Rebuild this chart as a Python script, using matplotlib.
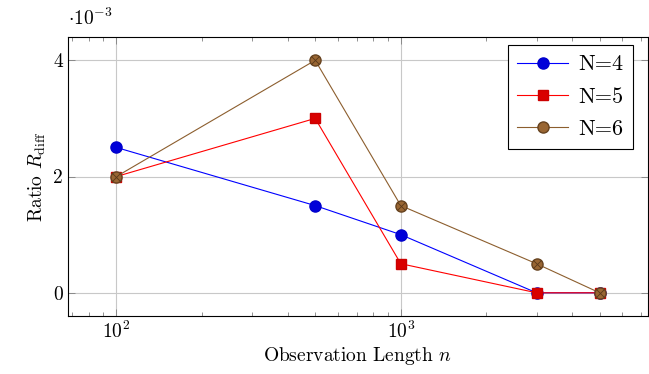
import matplotlib
matplotlib.use("Agg")
import matplotlib.pyplot as plt
from matplotlib.ticker import LogLocator, NullFormatter

plt.rcParams['font.family'] = 'serif'
plt.rcParams['font.serif'] = ['cmr10']
plt.rcParams['mathtext.fontset'] = 'cm'
plt.rcParams['axes.unicode_minus'] = False
plt.rcParams['axes.formatter.use_mathtext'] = True

# observation lengths and ratios (in units of 1e-3)
obs_len = [100, 500, 1000, 3000, 5000]
ratio_n4 = [2.5, 1.5, 1.0, 0.0, 0.0]
ratio_n5 = [2.0, 3.0, 0.5, 0.0, 0.0]
ratio_n6 = [2.0, 4.0, 1.5, 0.5, 0.0]

brown_line = (0.55, 0.37, 0.18)

fig = plt.figure(figsize=(6.49, 3.74), dpi=100)
ax = fig.add_axes([0.1048, 0.155, 0.8937, 0.746])

ax.plot(obs_len, ratio_n4, color='blue', lw=0.8, marker='o', ms=8,
        mfc=(0, 0, 0.85), mec=(0, 0, 0.8), label='N=4', zorder=3)
ax.plot(obs_len, ratio_n5, color='red', lw=0.8, marker='s', ms=7.5,
        mfc=(0.85, 0, 0), mec=(0.8, 0, 0), label='N=5', zorder=3)
ax.plot(obs_len, ratio_n6, color=brown_line, lw=0.8, marker='o', ms=8,
        mfc=(0.6, 0.4, 0.2), mec=(0.4, 0.26, 0.12), label='N=6', zorder=3)
# cross inside the brown circles
ax.plot(obs_len, ratio_n6, ls='none', marker='x', ms=5.5, mew=0.6,
        color=(0.35, 0.22, 0.1), zorder=4)

ax.set_xscale('log')
ax.set_xlim(67.6, 7400)
ax.set_ylim(-0.4, 4.4)
ax.set_yticks([0, 2, 4])
ax.set_yticklabels(['0', '2', '4'])
ax.xaxis.set_major_locator(LogLocator(base=10, numticks=10))
ax.xaxis.set_minor_locator(LogLocator(base=10, subs=range(2, 10), numticks=20))
ax.xaxis.set_minor_formatter(NullFormatter())

ax.grid(True, which='major', color='#c8c8c8', lw=0.8)
ax.set_axisbelow(True)
ax.tick_params(which='both', direction='in', top=True, right=True, labelsize=14)
ax.tick_params(which='major', length=5, width=0.6, color='#808080')
ax.tick_params(which='minor', length=3, width=0.6, color='#808080')
for s in ax.spines.values():
    s.set_linewidth(0.8)

ax.text(0.0, 1.03, r'$\cdot 10^{-3}$', transform=ax.transAxes, fontsize=14,
        ha='left', va='bottom')
ax.set_xlabel(r'Observation Length $n$', fontsize=14, labelpad=2)
ax.set_ylabel(r'Ratio $R_{\mathrm{diff}}$', fontsize=14, labelpad=4)

leg = ax.legend(loc='upper right', bbox_to_anchor=(0.974, 0.97), fontsize=16,
                fancybox=False, framealpha=1, edgecolor='black',
                borderaxespad=0, handlelength=2.3, handletextpad=0.45,
                labelspacing=0.58, borderpad=0.42)
leg.get_frame().set_linewidth(0.8)

fig.savefig('out.png', dpi=100)
